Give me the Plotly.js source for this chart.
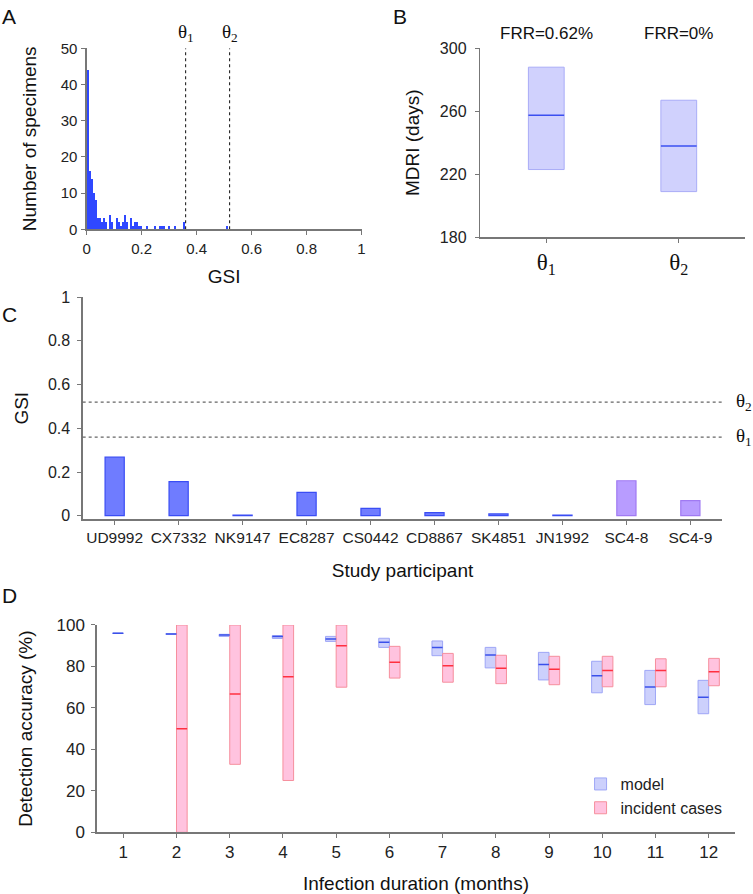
<!DOCTYPE html>
<html>
<head>
<meta charset="utf-8">
<script src="https://cdn.plot.ly/plotly-3.0.1.min.js"></script>
<style>
  html, body { margin: 0; padding: 0; background: #fff; }
  #gd { width: 753px; height: 894px; }
</style>
</head>
<body>
<div id="gd"></div>
<script>
// A: distribution of GSI (bin centres, bin width 0.0075)
var histGsi = [0.00375, 0.01125, 0.01875, 0.02625, 0.03375, 0.04125, 0.04875, 0.05625,
  0.06375, 0.07125, 0.08625, 0.09375, 0.10875, 0.11625, 0.12375, 0.13125, 0.13875,
  0.14625, 0.16125, 0.16875, 0.17625, 0.18375, 0.19125, 0.19875, 0.22125, 0.24875,
  0.26625, 0.27375, 0.28125, 0.30125, 0.32125, 0.35375, 0.51125];
var histCount = [44, 16, 14, 10, 8, 3, 3, 2, 3, 2, 4, 2, 3, 2, 1, 2, 4, 2, 3, 1, 2, 2,
  1, 1, 1, 1, 1, 1, 1, 1, 1, 2, 1];
var thetaGsi = [0.36, 0.52];
var thetaText = ["θ<sub>1</sub>", "θ<sub>2</sub>"];

// B: MDRI per threshold
var mdriLow = [223, 209];
var mdriMedian = [257.5, 238];
var mdriHigh = [288, 267];
var mdriTicks = [180, 220, 260, 300];
var frrText = ["FRR=0.62%", "FRR=0%"];

// C: GSI per study participant
var participants = ["UD9992", "CX7332", "NK9147", "EC8287", "CS0442", "CD8867",
  "SK4851", "JN1992", "SC4-8", "SC4-9"];
var participantGsi = [0.268, 0.156, 0.003, 0.107, 0.034, 0.014, 0.008, 0.003, 0.160, 0.069];
var purpleParticipants = ["SC4-8", "SC4-9"];

// D: detection accuracy by infection duration
var months = [1, 2, 3, 4, 5, 6, 7, 8, 9, 10, 11, 12];
var modelLow = [95.9, 95.5, 94.5, 93.5, 92.1, 89.2, 85.2, 79.3, 73.5, 67.3, 61.6, 57.2];
var modelMedian = [96.0, 95.6, 95.2, 94.4, 93.3, 91.7, 89.2, 85.5, 80.9, 75.5, 70.1, 65.1];
var modelHigh = [96.1, 95.8, 95.5, 94.9, 94.5, 93.6, 92.3, 89.2, 86.8, 82.5, 78.1, 73.3];
var incidentLow = [null, 0, 32.8, 25, 70, 74.4, 72.4, 71.7, 71.2, 70.2, 70.2, 70.7];
var incidentMedian = [null, 50, 66.7, 75, 90, 82.0, 80.4, 79.1, 78.6, 78.1, 78.1, 77.5];
var incidentHigh = [null, 100, 100, 100, 100, 89.7, 86.3, 85.4, 84.9, 84.9, 83.7, 83.9];

var SANS = "Liberation Sans, Arial, sans-serif";
var SERIF = "Liberation Serif, DejaVu Serif, serif";
var AXIS_COLOR = "#777";

function span(lo, hi) {
  return hi.map(function (h, i) { return h == null ? null : h - lo[i]; });
}
// median segments: from x+left to x+right at each median
function segX(xs, left, right) {
  var out = [];
  xs.forEach(function (x) { out.push(x + left, x + right, null); });
  return out;
}
function segY(ys) {
  var out = [];
  ys.forEach(function (y) { out.push(y, y, null); });
  return out;
}

var traces = [
  {
    type: "bar", x: histGsi, y: histCount, width: 0.0072,
    marker: { color: "#2f48ff", line: { width: 0 } },
    xaxis: "x", yaxis: "y", showlegend: false
  },
  {
    type: "bar", x: [0, 1], base: mdriLow, y: span(mdriLow, mdriHigh), width: 0.27,
    marker: { color: "#d0d1fd", line: { color: "#a9acf7", width: 1 } },
    xaxis: "x2", yaxis: "y2", showlegend: false
  },
  {
    type: "scatter", mode: "lines", x: segX([0, 1], -0.135, 0.135), y: segY(mdriMedian),
    line: { color: "#3b4ff0", width: 1.5 }, xaxis: "x2", yaxis: "y2", showlegend: false
  },
  {
    type: "bar", x: participants, y: participantGsi, width: 0.3,
    marker: {
      color: participants.map(function (p) { return purpleParticipants.indexOf(p) >= 0 ? "#b89cff" : "#6f7cff"; }),
      line: {
        color: participants.map(function (p) { return purpleParticipants.indexOf(p) >= 0 ? "#a07af2" : "#3a4df4"; }),
        width: 1.2
      }
    },
    xaxis: "x3", yaxis: "y3", showlegend: false
  },
  {
    type: "bar", name: "model", x: months, base: modelLow, y: span(modelLow, modelHigh),
    width: 0.2, offset: -0.2,
    marker: { color: "rgba(170,176,250,0.6)", line: { color: "#9ea6f6", width: 1 } },
    xaxis: "x4", yaxis: "y4"
  },
  {
    type: "bar", name: "incident cases", x: months, base: incidentLow, y: span(incidentLow, incidentHigh),
    width: 0.2, offset: 0,
    marker: { color: "#ffc3df", line: { color: "#f68f9d", width: 1 } },
    xaxis: "x4", yaxis: "y4"
  },
  {
    type: "scatter", mode: "lines", x: segX(months, -0.2, 0), y: segY(modelMedian),
    line: { color: "#3a50ea", width: 1.5 }, xaxis: "x4", yaxis: "y4", showlegend: false
  },
  {
    type: "scatter", mode: "lines", x: segX(months.slice(1), 0, 0.2), y: segY(incidentMedian.slice(1)),
    line: { color: "#ff3040", width: 1.5 }, xaxis: "x4", yaxis: "y4", showlegend: false
  }
];

function axisBase(extra) {
  var a = {
    showline: true, linecolor: AXIS_COLOR, linewidth: 1.3,
    ticks: "outside", ticklen: 4, tickcolor: AXIS_COLOR,
    showgrid: false, zeroline: false, fixedrange: true,
    tickfont: { family: SANS, size: 15, color: "#222" }
  };
  for (var k in extra) a[k] = extra[k];
  return a;
}
function title(text, standoff) {
  return { text: text, standoff: standoff, font: { family: SANS, size: 19, color: "#111" } };
}

var annotations = [];
[["A", 0.0, 0.997], ["B", 0.519, 0.997], ["C", 0.0, 0.663], ["D", 0.0, 0.349]].forEach(function (p) {
  annotations.push({
    text: p[0], xref: "paper", yref: "paper", x: p[1], y: p[2], xanchor: "left", yanchor: "top",
    showarrow: false, font: { family: SANS, size: 21, color: "#111" }
  });
});
thetaGsi.forEach(function (t, i) {
  annotations.push({
    text: thetaText[i], xref: "x", yref: "paper", x: t, y: 0.963, yanchor: "middle",
    showarrow: false, font: { family: SERIF, size: 19, color: "#111" }
  });
  annotations.push({
    text: thetaText[i], xref: "paper", yref: "y3", x: 0.975, y: t, xanchor: "left",
    showarrow: false, font: { family: SERIF, size: 19, color: "#111" }
  });
});
frrText.forEach(function (f, i) {
  annotations.push({
    text: f, xref: "x2", yref: "paper", x: i, y: 0.963, yanchor: "middle",
    showarrow: false, font: { family: SANS, size: 17, color: "#111" }
  });
});

var shapes = thetaGsi.map(function (t) {
  return { type: "line", xref: "x", yref: "y", x0: t, x1: t, y0: 0, y1: 50,
    line: { color: "#222", width: 1.1, dash: "3px,3px" } };
}).concat(thetaGsi.map(function (t) {
  return { type: "line", xref: "x3 domain", yref: "y3", x0: 0, x1: 1, y0: t, y1: t,
    line: { color: "#666", width: 1.2, dash: "3px,3px" } };
}));

var layout = {
  width: 753, height: 894,
  margin: { l: 0, r: 0, t: 0, b: 0 },
  paper_bgcolor: "#fff", plot_bgcolor: "#fff",
  barmode: "overlay", bargap: 0,
  font: { family: SANS, color: "#222" },
  xaxis: axisBase({ domain: [0.1151, 0.4801], anchor: "y", range: [0, 1],
    tickvals: [0, 0.2, 0.4, 0.6, 0.8, 1], ticktext: ["0", "0.2", "0.4", "0.6", "0.8", "1"],
    ticklabelstandoff: 1, title: title("GSI", 14) }),
  yaxis: axisBase({ domain: [0.7435, 0.946], anchor: "x", range: [0, 50], dtick: 10,
    ticklabelstandoff: 1, title: title("Number of specimens", 19) }),
  xaxis2: axisBase({ domain: [0.6375, 0.9894], anchor: "y2", range: [-0.5, 1.5],
    tickvals: [0, 1], ticktext: thetaText, ticklabelstandoff: 0,
    tickfont: { family: SERIF, size: 23, color: "#111" } }),
  yaxis2: axisBase({ domain: [0.7346, 0.946], anchor: "x2", range: [180, 300],
    tickvals: mdriTicks, ticklabelstandoff: 5, tickfont: { family: SANS, size: 16, color: "#222" },
    title: title("MDRI (days)", 15) }),
  xaxis3: axisBase({ domain: [0.1098, 0.9593], anchor: "y3", type: "category", range: [-0.5, 9.5],
    ticklabelstandoff: 0, tickfont: { family: SANS, size: 15.5, color: "#222" },
    title: title("Study participant", 18) }),
  yaxis3: axisBase({ domain: [0.4191, 0.6676], anchor: "x3", range: [-0.0165, 1],
    tickvals: [0, 0.2, 0.4, 0.6, 0.8, 1], ticktext: ["0", "0.2", "0.4", "0.6", "0.8", "1"],
    ticklabelstandoff: 4, tickfont: { family: SANS, size: 16, color: "#222" },
    title: title("GSI", 14) }),
  xaxis4: axisBase({ domain: [0.1284, 0.9765], anchor: "y4", range: [0.5, 12.5], dtick: 1,
    ticklabelstandoff: 0, tickfont: { family: SANS, size: 17, color: "#222" },
    title: title("Infection duration (months)", 20) }),
  yaxis4: axisBase({ domain: [0.069, 0.3009], anchor: "x4", range: [0, 100], dtick: 20,
    ticklabelstandoff: 3, tickfont: { family: SANS, size: 17, color: "#222" },
    title: title("Detection accuracy (%)", 19) }),
  legend: {
    x: 0.771, y: 0.142, xanchor: "left", yanchor: "top",
    bgcolor: "rgba(0,0,0,0)", font: { family: SANS, size: 16, color: "#222" },
    itemwidth: 30, tracegroupgap: 4
  },
  annotations: annotations,
  shapes: shapes
};

Plotly.newPlot("gd", traces, layout, { staticPlot: true, displayModeBar: false });
</script>
</body>
</html>
